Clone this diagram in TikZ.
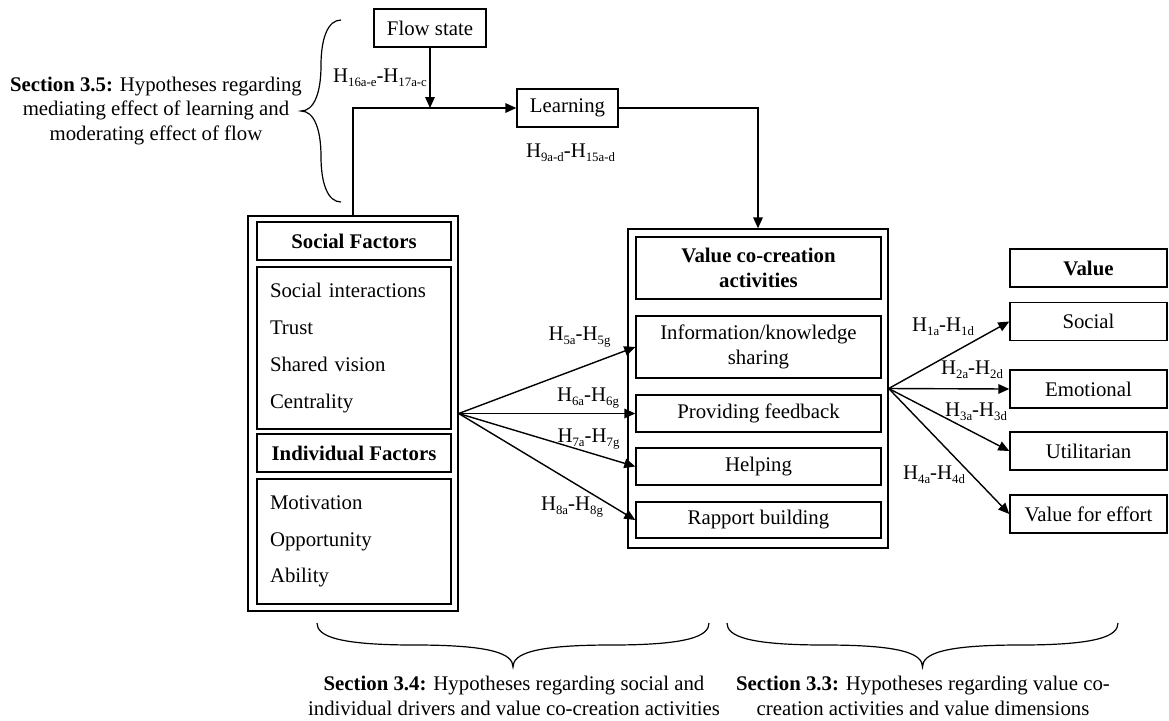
\documentclass[tikz,border=0pt]{standalone}
\usepackage{fontspec}
\setmainfont{Liberation Serif}
\usepackage{tikz}
\usetikzlibrary{arrows.meta,positioning}

\newcommand{\figfont}{\fontsize{10.4}{12.4}\selectfont}
\newcommand{\listfont}{\fontsize{10.4}{18.4}\selectfont}
\newcommand{\hsub}[1]{\raisebox{-2pt}{\fontsize{6.4}{7}\selectfont #1}}

\tikzset{
  box/.style={draw, line width=0.7pt, align=center, inner sep=0pt, minimum height=19pt},
  listbox/.style={draw, line width=0.7pt, align=left, inner xsep=6.5pt, text width=84pt, font=\listfont},
  hlab/.style={inner sep=0pt},
  arr/.style={line width=0.7pt, -{Triangle[length=5.5pt,width=4.8pt]}},
  brace/.style={line width=0.6pt},
}

\begin{document}
\begin{tikzpicture}[x=0.5pt, y=-0.5pt, every node/.style={font=\figfont}]
  \useasboundingbox (0,0) rectangle (1169,720);

  % top: flow and learning
  \node[box, minimum width=56pt] (flow) at (430,28) {Flow state};
  \node[box, minimum width=50.5pt] (learn) at (567.5,108) {Learning};

  % drivers
  \node[draw, line width=0.7pt, minimum width=105pt, minimum height=197.5pt] (drivers) at (353,413.5) {};
  \node[box, minimum width=97pt] (socf) at (354,241) {\textbf{Social Factors}};
  \node[listbox, minimum height=81pt] (socitems) at (354,348)
    {Social interactions\\Trust\\Shared vision\\Centrality};
  \node[box, minimum width=97pt] (indf) at (354,453) {\textbf{Individual Factors}};
  \node[listbox, minimum height=62.5pt] (inditems) at (354,541.5)
    {Motivation\\Opportunity\\Ability};

  % value co-creation activities
  \node[draw, line width=0.7pt, minimum width=130pt, minimum height=159.5pt] (vcc) at (758,388.5) {};
  \node[box, minimum width=122.5pt, minimum height=31pt] (vcchead) at (758.5,268)
    {\textbf{Value co-creation}\\\textbf{activities}};
  \node[box, minimum width=122.5pt, minimum height=31pt] (info) at (758.5,347)
    {Information/knowledge\\sharing};
  \node[box, minimum width=122.5pt, minimum height=18.5pt] (feed) at (758.5,413.5) {Providing feedback};
  \node[box, minimum width=122.5pt, minimum height=18.5pt] (help) at (758.5,466.5) {Helping};
  \node[box, minimum width=122.5pt, minimum height=18pt] (rapp) at (758.5,520) {Rapport building};

  % value dimensions
  \node[box, minimum width=78.5pt] (valhead) at (1088.5,268) {\textbf{Value}};
  \node[box, minimum width=78.5pt] (vsoc) at (1088.5,321.5) {Social};
  \node[box, minimum width=78.5pt] (vemo) at (1088.5,389) {Emotional};
  \node[box, minimum width=78.5pt] (vutil) at (1088.5,451) {Utilitarian};
  \node[box, minimum width=78.5pt] (veff) at (1088.5,514) {Value for effort};

  % connectors
  \coordinate (join) at (flow.south |- learn.west);
  \draw[arr] (drivers.north) |- (learn.west);
  \draw[arr] (flow.south) -- (join);
  \draw[arr] (learn.east) -| (vcc.north);
  \foreach \t in {info,feed,help,rapp}
    \draw[arr] (drivers.east) -- (\t.west);
  \foreach \t in {vsoc,vemo,vutil,veff}
    \draw[arr] (vcc.east) -- (\t.west);

  % hypothesis labels
  \node[hlab] (h16) at (380,78) {H\hsub{16a-e}-H\hsub{17a-c}};
  \node[hlab] (h9) at (570.5,153) {H\hsub{9a-d}-H\hsub{15a-d}};
  \node[hlab] (h5) at (579.5,337) {H\hsub{5a}-H\hsub{5g}};
  \node[hlab] (h6) at (588,398) {H\hsub{6a}-H\hsub{6g}};
  \node[hlab] (h7) at (588.5,439) {H\hsub{7a}-H\hsub{7g}};
  \node[hlab] (h8) at (572,507) {H\hsub{8a}-H\hsub{8g}};
  \node[hlab] (h1) at (943,327) {H\hsub{1a}-H\hsub{1d}};
  \node[hlab] (h2) at (972,370) {H\hsub{2a}-H\hsub{2d}};
  \node[hlab] (h3) at (976,412) {H\hsub{3a}-H\hsub{3d}};
  \node[hlab] (h4) at (934,475) {H\hsub{4a}-H\hsub{4d}};

  % braces
  \draw[brace] (341,20) .. controls (328,20) and (321,38) .. (321,65.5)
    .. controls (321,93) and (314,111) .. (301,111)
    .. controls (314,111) and (321,129) .. (321,156.5)
    .. controls (321,184) and (328,202) .. (341,202);
  \draw[brace] (317,623) .. controls (317,636) and (337,645) .. (415,645)
    .. controls (493,645) and (513,654) .. (513,667)
    .. controls (513,654) and (533,645) .. (611,645)
    .. controls (689,645) and (709,636) .. (709,623);
  \draw[brace] (727,623) .. controls (727,636) and (747,645) .. (825,645)
    .. controls (903,645) and (922.5,654) .. (922.5,667)
    .. controls (922.5,654) and (942,645) .. (1020,645)
    .. controls (1098,645) and (1118,636) .. (1118,623);

  % section notes
  \node[align=center, inner sep=0pt] (sec35) at (156,111)
    {\textbf{Section 3.5:} Hypotheses regarding\\mediating effect of learning and\\moderating effect of flow};
  \node[align=center, inner sep=0pt] (sec34) at (514,695.5)
    {\textbf{Section 3.4:} Hypotheses regarding social and\\individual drivers and value co-creation activities};
  \node[align=center, inner sep=0pt] (sec33) at (923,695.5)
    {\textbf{Section 3.3:} Hypotheses regarding value co-\\creation activities and value dimensions};
\end{tikzpicture}
\end{document}
